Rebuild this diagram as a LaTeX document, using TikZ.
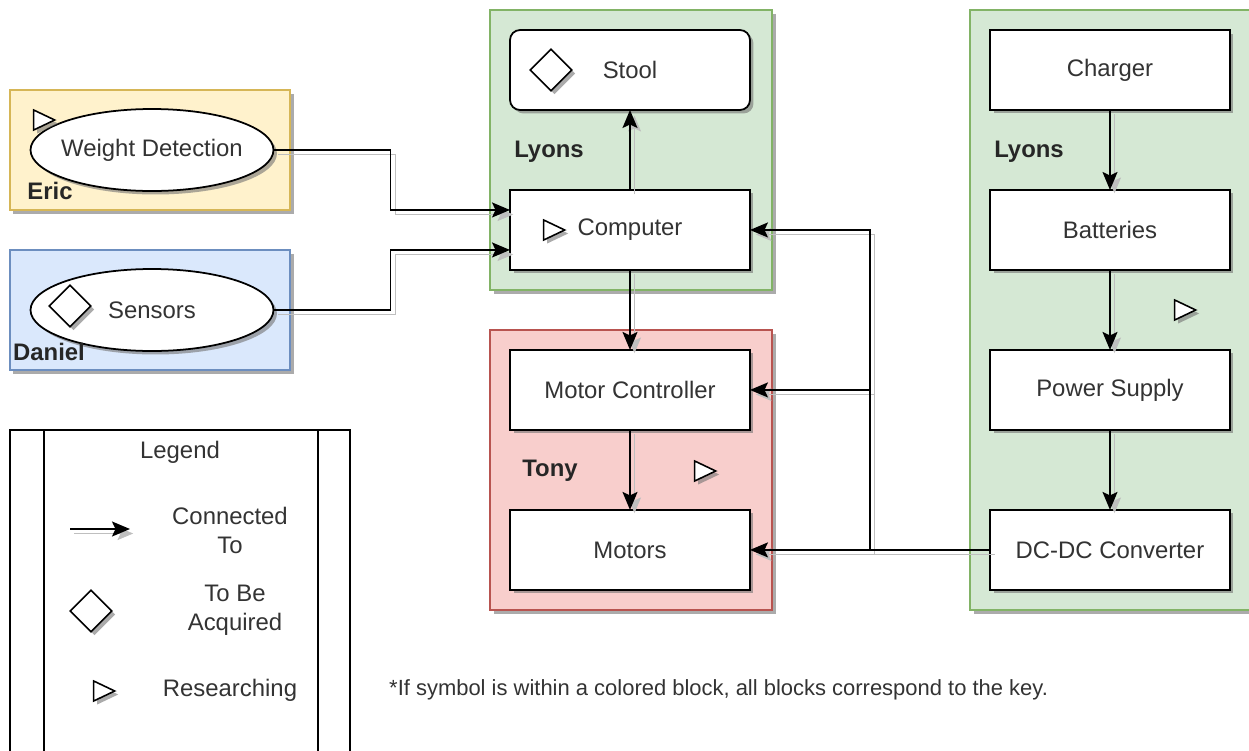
\documentclass[tikz,border=0pt]{standalone}
\usepackage{fontspec}
\setmainfont{Liberation Sans}
\usepackage{tikz}
\usetikzlibrary{positioning, shapes.geometric, arrows.meta, shadows}

\definecolor{ericfill}{HTML}{FFF2CC}
\definecolor{ericline}{HTML}{D6B656}
\definecolor{danfill}{HTML}{DAE8FC}
\definecolor{danline}{HTML}{6C8EBF}
\definecolor{lyonsfill}{HTML}{D5E8D4}
\definecolor{lyonsline}{HTML}{82B366}
\definecolor{tonyfill}{HTML}{F8CECC}
\definecolor{tonyline}{HTML}{B85450}

\newcommand{\diagfont}{\fontsize{13.6}{16.5}\selectfont}

\tikzset{
    boxshadow/.style={drop shadow={shadow xshift=0.07cm, shadow yshift=-0.07cm, fill=black!55, opacity=0.6}},
    team/.style={line width=0.8pt, boxshadow},
    block/.style={draw, fill=white, line width=1pt, minimum width=4.8cm, minimum height=1.6cm,
        outer sep=0pt, text=black!80, font=\diagfont, boxshadow},
    oval/.style={block, ellipse, inner sep=0pt, minimum width=4.86cm, minimum height=1.64cm},
    owner/.style={font=\diagfont\bfseries, text=black!85},
    plain/.style={font=\diagfont, text=black!80, align=center},
    buy/.style={diamond, draw, fill=white, line width=0.9pt, minimum size=0.84cm, inner sep=0pt, boxshadow},
    probe/.style={isosceles triangle, isosceles triangle stretches, draw, fill=white, line width=0.9pt,
        minimum width=0.4cm, minimum height=0.42cm, inner sep=0pt, boxshadow},
    wire/.style={line width=1pt, -{Stealth[length=0.36cm, width=0.3cm, inset=0.07cm]},
        preaction={draw=black!25, transform canvas={shift={(0.09cm,-0.09cm)}}}}
}

\begin{document}
\begin{tikzpicture}[x=0.02cm, y=-0.02cm]
    \useasboundingbox (0,0) rectangle (1249,751);

    \draw[team, fill=ericfill, draw=ericline] (10,90) rectangle (290,210);
    \draw[team, fill=danfill, draw=danline] (10,250) rectangle (290,370);
    \draw[team, fill=lyonsfill, draw=lyonsline] (490,10) rectangle (772,290);
    \draw[team, fill=tonyfill, draw=tonyline] (490,330) rectangle (772,610);
    \draw[team, fill=lyonsfill, draw=lyonsline] (970,10) rectangle (1262,610);

    \node[oval, label={[plain]center:Weight Detection}] (wd) at (152,150) {};
    \node[probe] (wdprobe) at (40,120) {};
    \node[owner] (eric) at (50,191) {Eric};

    \node[oval, label={[plain]center:Sensors}] (sens) at (152,310) {};
    \node[buy] (sensbuy) at (70,306) {};
    \node[owner] (daniel) at (49,352) {Daniel};

    \node[block, rounded corners=0.2cm] (stool) at (630,70) {Stool};
    \node[buy] (stoolbuy) at (551,70) {};
    \node[owner] (lyonsa) at (549,152) {Lyons};
    \node[block, below=1.6cm of stool] (comp) {Computer};
    \node[probe] (compprobe) at (550,230) {};

    \node[block, below=1.6cm of comp] (mc) {Motor Controller};
    \node[block, below=1.6cm of mc] (mot) {Motors};
    \node[owner] (tony) at (550,471) {Tony};
    \node[probe] (tonyprobe) at (701,471) {};

    \node[block] (charger) at (1110,70) {Charger};
    \node[block, below=1.6cm of charger] (batt) {Batteries};
    \node[block, below=1.6cm of batt] (psu) {Power Supply};
    \node[block, below=1.6cm of psu] (dcdc) {DC-DC Converter};
    \node[owner] (lyonsb) at (1029,152) {Lyons};
    \node[probe] (powerprobe) at (1181,310) {};

    \draw[wire] (wd.east) -- ++(117,0) |- ([yshift=0.4cm]comp.west);
    \draw[wire] (sens.east) -- ++(117,0) |- ([yshift=-0.4cm]comp.west);
    \draw[wire] (comp) -- (stool);
    \draw[wire] (comp) -- (mc);
    \draw[wire] (mc) -- (mot);
    \draw[wire] (charger) -- (batt);
    \draw[wire] (batt) -- (psu);
    \draw[wire] (psu) -- (dcdc);
    \draw[wire] (dcdc.west) -- (mot.east);
    \draw[wire] (dcdc.west) -- ++(-120,0) |- (mc.east);
    \draw[wire] (dcdc.west) -- ++(-120,0) |- (comp.east);

    \node[draw, line width=0.9pt, minimum width=6.8cm, minimum height=6.6cm] (legend) at (180,595) {};
    \draw[line width=0.9pt] (legend.north west) ++(35,0) -- ++(0,330);
    \draw[line width=0.9pt] (legend.north east) ++(-33,0) -- ++(0,330);
    \node[plain] (legendtitle) at (180,452) {Legend};
    \coordinate (keyfrom) at (70,529);
    \coordinate (keyto) at (130,529);
    \draw[wire] (keyfrom) -- (keyto);
    \node[plain] (keywire) at (230,530) {Connected\\To};
    \node[buy] (keybuy) at (91,611) {};
    \node[plain] (keybuytext) at (235,610) {To Be\\Acquired};
    \node[probe] (keyprobe) at (100,691) {};
    \node[plain] (keyprobetext) at (230,690) {Researching};

    \node[plain, anchor=west, font=\fontsize{12.5}{15}\selectfont] (note) at (383,690) {*If symbol is within a colored block, all blocks correspond to the key.};
\end{tikzpicture}
\end{document}
